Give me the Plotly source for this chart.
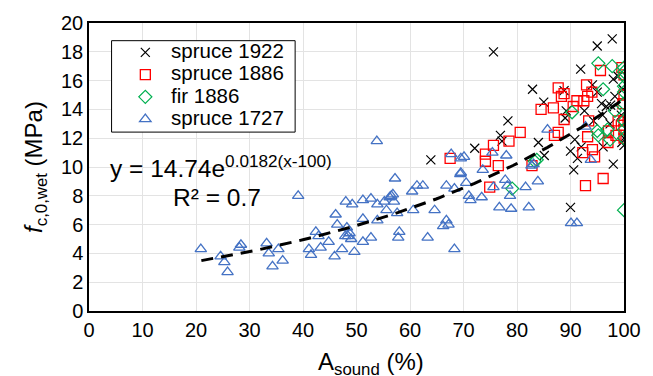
import numpy as np
import plotly.graph_objects as go

# spruce 1922 (black x)
s1922_x = [63.9, 72.1, 75.6, 76.9, 77.2, 78.3, 82.9, 84.0, 85.0, 85.1, 88.8, 89.0, 89.2, 90.0, 90.0, 90.6,
           90.8, 91.3, 91.9, 92.6, 94.1, 94.3, 95.0, 95.0, 95.8, 96.0, 96.1, 96.7, 97.4, 97.8, 98.0, 98.0,
           98.3, 98.9, 99.6, 99.8, 100, 100, 99.5, 92.0, 97.5]
s1922_y = [10.5, 11.3, 18.0, 12.2, 11.8, 13.2, 15.4, 11.7, 14.5, 10.8, 15.3, 13.4, 13.9, 11.1, 7.2, 9.8,
           11.9, 10.6, 16.8, 13.9, 15.7, 13.2, 18.4, 15.2, 14.4, 13.6, 11.4, 14.2, 13.0, 18.9, 16.1, 10.2,
           14.9, 16.3, 11.7, 15.4, 12.0, 11.5, 13.6, 11.4, 14.3]

# spruce 1886 (red squares)
s1886_x = [67.5, 74.1, 74.1, 75.6, 76.5, 78.5, 80.6, 82.8, 74.9, 84.5, 86.8, 87.7, 88.3, 88.8, 90.5, 91.2,
           88.8, 87.7, 87.0, 93.0, 92.5, 93.2, 94.0, 93.4, 93.2, 95.6, 92.3, 94.1, 94.5, 92.8, 96.1, 97.0,
           97.1, 98.5, 98.9, 99.6, 99.8, 100, 100, 100, 100, 100, 99.5]
s1886_y = [10.6, 10.9, 10.4, 11.5, 10.1, 11.8, 12.4, 10.1, 8.6, 14.0, 14.1, 15.5, 14.9, 15.1, 14.2, 14.6,
           13.3, 12.4, 12.2, 15.7, 14.6, 14.9, 15.2, 13.2, 12.1, 16.7, 11.0, 11.2, 10.7, 8.7, 9.2, 11.7,
           12.5, 12.2, 13.2, 16.9, 14.4, 13.2, 12.6, 12.0, 16.4, 15.0, 12.9]

# fir 1886 (green diamonds)
fir_x = [79.1, 83.3, 83.7, 90.3, 95.0, 95.2, 96.1, 96.9, 97.4, 97.8, 98.3, 100, 100, 100, 100, 100,
         100, 100, 100, 100, 95.2, 100]
fir_y = [8.5, 10.4, 10.5, 13.8, 12.5, 17.2, 15.4, 12.6, 11.9, 17.0, 13.9, 16.9, 16.3, 15.6, 15.2, 14.4,
         13.2, 12.6, 12.0, 7.0, 12.2, 16.6]

# spruce 1727 (blue triangles)
s1727_x = [20.9, 24.6, 25.3, 25.9, 28.1, 28.4, 33.2, 33.6, 34.3, 35.4, 36.2, 39.1, 41.1, 41.5, 42.4, 42.9,
           43.3, 44.8, 45.9, 46.1, 46.4, 47.3, 47.9, 48.2, 48.4, 48.7, 49.0, 48.0, 49.2, 49.6, 51.2, 51.2,
           51.2, 52.7, 52.7, 53.8, 53.9, 53.9, 55.2, 55.6, 56.2, 56.5, 56.8, 57.0, 57.2, 57.6, 58.0, 57.8,
           60.4, 61.3, 62.4, 60.6, 63.3, 64.6, 66.8, 68.3, 66.8, 66.2, 67.2, 68.3, 67.7, 69.4, 69.5, 70.1,
           75.4, 78.0, 73.6, 69.5, 70.5, 71.0, 71.3, 73.4, 75.6, 78.2, 78.7, 81.6, 83.9, 82.7, 83.1, 85.7,
           92.8, 93.8, 76.7, 78.9, 82.2, 90.1, 91.2, 77.8]
s1727_y = [4.3, 3.8, 3.4, 2.7, 4.4, 4.6, 4.7, 4.0, 3.1, 4.3, 3.5, 8.0, 4.3, 3.9, 5.5, 5.2,
           4.4, 4.8, 3.8, 6.7, 6.0, 4.3, 5.2, 5.8, 5.2, 5.4, 5.0, 7.6, 7.4, 4.1, 7.7, 6.4,
           4.8, 7.8, 5.1, 11.8, 7.4, 6.3, 7.6, 7.0, 7.9, 8.0, 8.1, 7.6, 9.2, 6.8, 5.5, 5.1,
           8.3, 8.7, 8.7, 7.0, 5.1, 7.0, 8.7, 8.5, 6.3, 5.9, 6.0, 4.3, 10.9, 9.5, 10.6, 10.7,
           11.0, 10.8, 9.8, 9.6, 8.9, 8.0, 7.7, 7.9, 8.6, 8.7, 8.0, 8.6, 9.0, 10.1, 10.2, 12.6,
           12.8, 10.5, 7.2, 7.1, 7.2, 6.1, 6.1, 9.1]

series_names = ["spruce 1922", "spruce 1886", "fir 1886", "spruce 1727"]

# trend line parameters (from the displayed equation)
trend_a = 14.74
trend_b = 0.0182
trend_range = [21, 100]

FONT = "Arial, Liberation Sans, sans-serif"


def leg(name):
    return '<span style="font-size:20.5px">\u00a0' + name + '</span>'


fig = go.Figure()
fig.add_trace(go.Scatter(x=s1922_x, y=s1922_y, mode="markers", name=leg(series_names[0]),
                         marker=dict(symbol="x-thin-open", size=9, color="black",
                                     line=dict(width=1.2, color="black"))))
fig.add_trace(go.Scatter(x=s1886_x, y=s1886_y, mode="markers", name=leg(series_names[1]),
                         marker=dict(symbol="square-open", size=10, color="#ff0000",
                                     line=dict(width=1.3, color="#ff0000"))))
fig.add_trace(go.Scatter(x=fir_x, y=fir_y, mode="markers", name=leg(series_names[2]),
                         marker=dict(symbol="diamond-open", size=10, color="#00b050",
                                     line=dict(width=1.2, color="#00b050"))))
fig.add_trace(go.Scatter(x=s1727_x, y=s1727_y, mode="markers", name=leg(series_names[3]),
                         marker=dict(symbol="triangle-up-open", size=10, color="#4472c4",
                                     line=dict(width=1.3, color="#4472c4"))))

tx = np.linspace(trend_range[0], trend_range[1], 100)
ty = trend_a * np.exp(trend_b * (tx - 100))
fig.add_trace(go.Scatter(x=tx, y=ty, mode="lines", showlegend=False, hoverinfo="skip",
                         line=dict(color="black", width=3, dash="12px,8px")))

# equation and R²
fig.add_annotation(x=24.6, y=10.05, xref="x", yref="y", xanchor="center", yanchor="middle",
                   text="y = 14.74e<sup>0.0182(x-100)</sup>", showarrow=False,
                   font=dict(family=FONT, size=24.5, color="black"))
fig.add_annotation(x=24.0, y=7.85, xref="x", yref="y", xanchor="center", yanchor="middle",
                   text="R² = 0.7", showarrow=False,
                   font=dict(family=FONT, size=24.5, color="black"))

# x axis title (slightly right of center, as in the reference)
fig.add_annotation(x=0.5266, y=-0.12, xref="paper", yref="paper", xanchor="center", yanchor="top",
                   text="A<sub>sound</sub> (%)", showarrow=False,
                   font=dict(family=FONT, size=24, color="black"))

# legend frame
fig.add_shape(type="rect", xref="paper", yref="paper", x0=0.0422, x1=0.3853, y0=0.6212, y1=0.9386,
              line=dict(color="black", width=1), fillcolor="white", layer="above")

fig.update_layout(
    width=653, height=376,
    margin=dict(l=89, r=19, t=18, b=65),
    plot_bgcolor="white", paper_bgcolor="white",
    font=dict(family=FONT, size=20, color="black"),
    legend=dict(x=0.0679, y=0.954, xanchor="left", yanchor="top",
                borderwidth=0, bgcolor="rgba(0,0,0,0)",
                font=dict(family=FONT, size=14.8, color="black"),
                tracegroupgap=0, itemwidth=30),
)
fig.update_xaxes(range=[0, 100], dtick=10, showgrid=True, gridcolor="#e3e3e3", gridwidth=1,
                 showline=True, linecolor="black", linewidth=1.5, mirror=True, zeroline=False,
                 ticks="", tickfont=dict(size=20))
fig.update_yaxes(range=[0, 20], dtick=2, showgrid=True, gridcolor="#e3e3e3", gridwidth=1,
                 showline=True, linecolor="black", linewidth=1.5, mirror=True, zeroline=False,
                 ticks="", tickfont=dict(size=20),
                 title=dict(text="<i>f</i><sub>c,0,wet</sub> (MPa)", font=dict(size=24), standoff=12))

fig.write_html("out.html")
